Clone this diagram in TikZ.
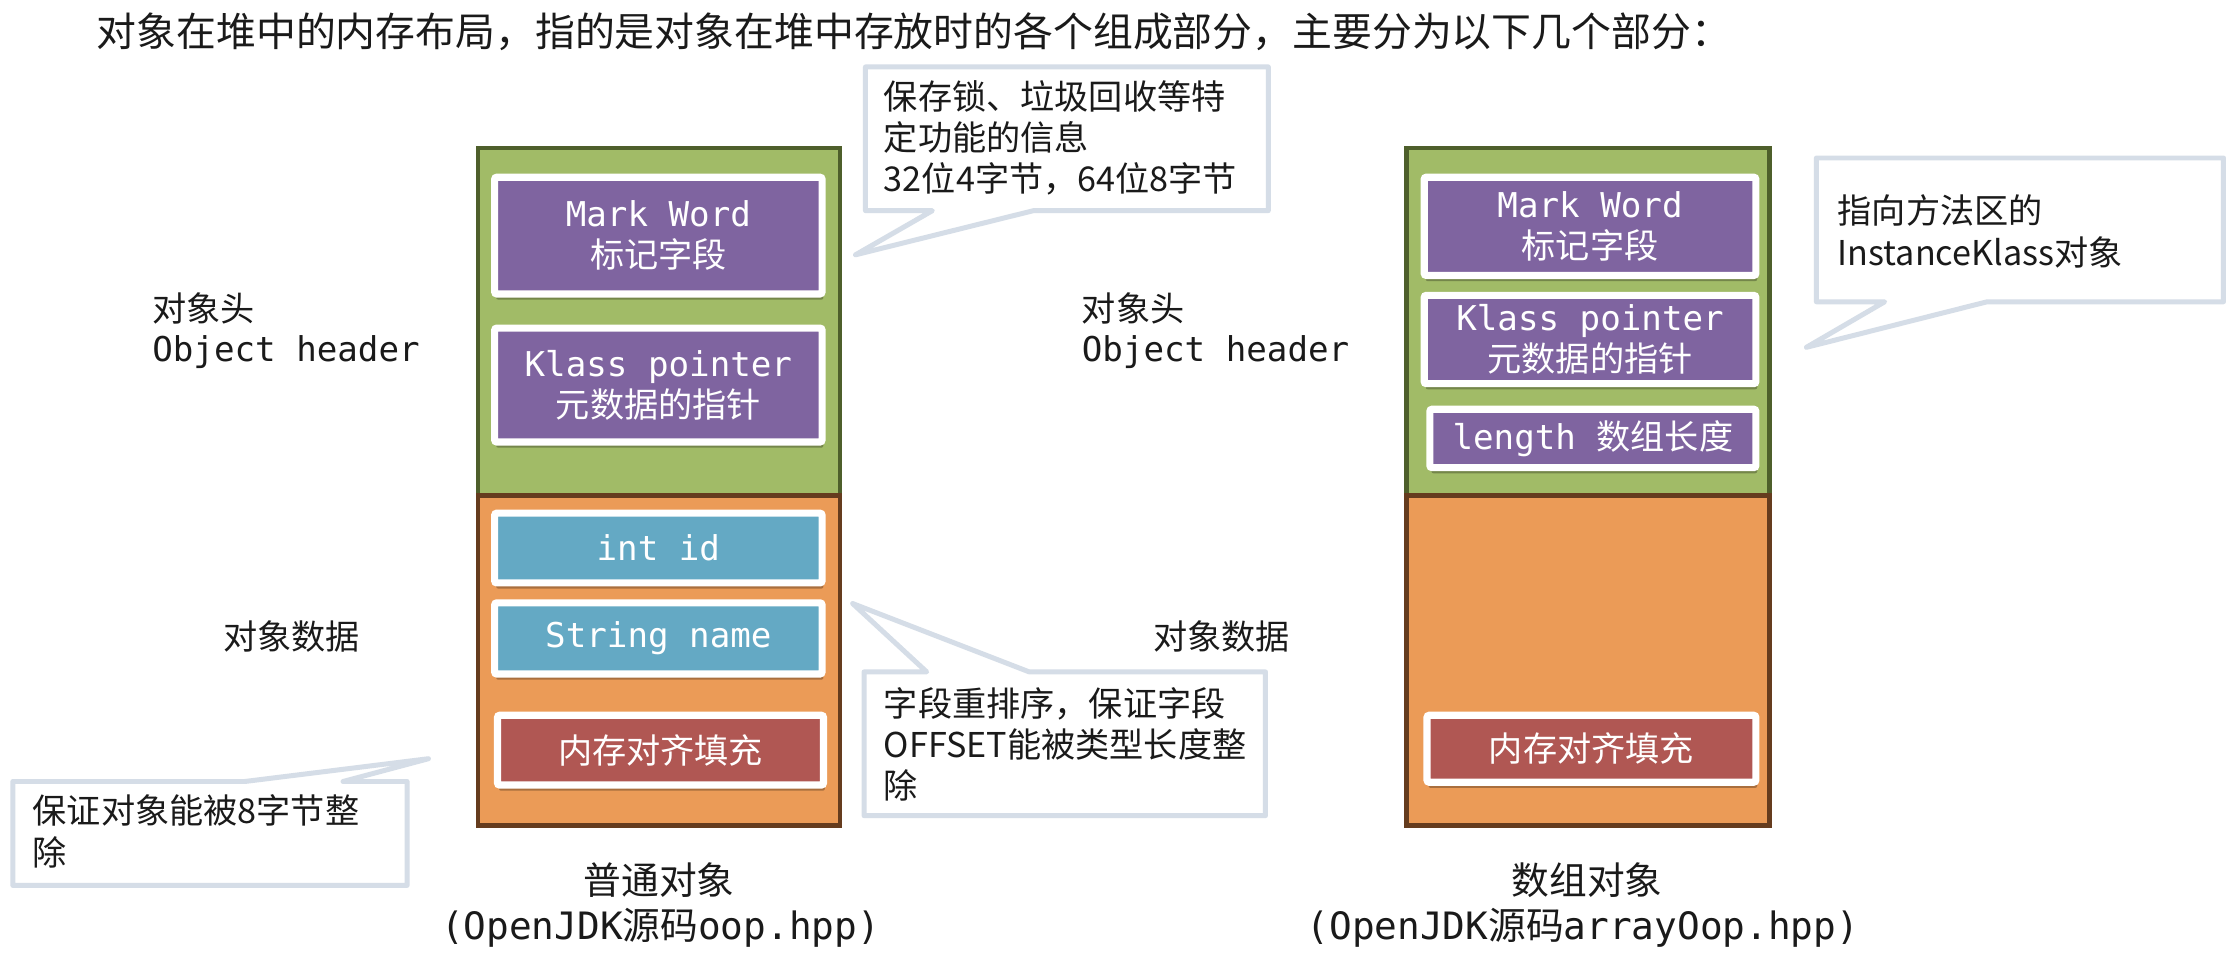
\documentclass[tikz,border=0pt]{standalone}
\usepackage{fontspec}
\setmainfont{Noto Sans CJK SC}
\newfontfamily\cjkf{Noto Sans CJK SC}
\newfontfamily\monof{DejaVu Sans Mono}
\usetikzlibrary{shadows}
\definecolor{hdrgreen}{HTML}{A1BB67}
\definecolor{hdrborder}{HTML}{4E5F2B}
\definecolor{datorange}{HTML}{EB9B57}
\definecolor{datborder}{HTML}{653C1E}
\definecolor{fpurple}{HTML}{7F64A0}
\definecolor{fblue}{HTML}{64A9C4}
\definecolor{fred}{HTML}{B05753}
\definecolor{calloutc}{HTML}{D5DDE7}
\definecolor{ink}{HTML}{1A1A1A}
\newcommand\fs[2]{\fontsize{#1}{#2}\selectfont}
\begin{document}
\begin{tikzpicture}[x=1pt,y=-1pt,
  every node/.style={inner sep=0pt, outer sep=0pt},
  field/.style={fill=#1, draw=white, line width=5pt, rounded corners=1.5pt,
    text=white, align=center, font=\fs{24}{29},
    drop shadow={shadow xshift=1pt, shadow yshift=-4pt, opacity=0.28, fill=black}},
  lbl/.style={anchor=west, text=ink, font=\fs{24}{29}},
  monolbl/.style={anchor=west, text=ink, font=\monof\fs{24}{29}},
  caption/.style={text=ink, align=center, font=\fs{26.5}{34}},
  callout/.style={draw=calloutc, line width=3.5pt, fill=white, line join=round},
  note/.style={anchor=west, align=left, text=ink, font=\fs{24}{29}}
]
\fill[white] (0,0) rectangle (1568,677);
\useasboundingbox (0,0) rectangle (1568,677);

% title
\node[anchor=west, text=ink, font=\fs{28}{34}] (title) at (68,22)
  {对象在堆中的内存布局，指的是对象在堆中存放时的各个组成部分，主要分为以下几个部分：};

% ---------- left object ----------
\filldraw[fill=hdrgreen, draw=hdrborder, line width=3pt] (336,104) rectangle (590,348);
\filldraw[fill=datorange, draw=datborder, line width=3pt] (336,348) rectangle (590,580);

\node[field=fpurple, minimum width=230pt, minimum height=82pt] (mw1) at (462.5,165.5)
  {{\monof Mark Word}\\{\cjkf 标记字段}};
\node[field=fpurple, minimum width=230pt, minimum height=80pt] (kp1) at (462.5,270.5)
  {{\monof Klass pointer}\\{\cjkf 元数据的指针}};
\node[field=fblue, minimum width=230pt, minimum height=49pt] (id1) at (462.5,385)
  {\monof int id};
\node[field=fblue, minimum width=230pt, minimum height=50pt] (sn1) at (462.5,448.5)
  {\monof String name};
\node[field=fred, minimum width=229pt, minimum height=49pt] (pad1) at (464,527)
  {内存对齐填充};

% ---------- right object ----------
\filldraw[fill=hdrgreen, draw=hdrborder, line width=3pt] (988,104) rectangle (1243,348);
\filldraw[fill=datorange, draw=datborder, line width=3pt] (988,348) rectangle (1243,580);

\node[field=fpurple, minimum width=233pt, minimum height=69pt] (mw2) at (1117,159)
  {{\monof Mark Word}\\{\cjkf 标记字段}};
\node[field=fpurple, minimum width=233pt, minimum height=62pt] (kp2) at (1117,238.5)
  {{\monof Klass pointer}\\{\cjkf 元数据的指针}};
\node[field=fpurple, minimum width=229pt, minimum height=41pt] (len2) at (1119,308)
  {{\monof length }{\cjkf 数组长度}};
\node[field=fred, minimum width=231pt, minimum height=47pt] (pad2) at (1118,526)
  {内存对齐填充};

% ---------- side labels ----------
\node[lbl] (hdr1) at (107,217) {对象头};
\node[monolbl] (hdr1en) at (107,247) {Object header};
\node[lbl] (dat1) at (157,447) {对象数据};
\node[lbl] (hdr2) at (760,217) {对象头};
\node[monolbl] (hdr2en) at (760,247) {Object header};
\node[lbl] (dat2) at (810,447) {对象数据};

% ---------- captions ----------
\node[caption] (cap1) at (463,618) {普通对象};
\node[caption] (cap1src) at (464,652) {{\monof (OpenJDK}源码{\monof oop.hpp)}};
\node[caption] (cap2) at (1115,618) {数组对象};
\node[caption] (cap2src) at (1112,652) {{\monof (OpenJDK}源码{\monof arrayOop.hpp)}};

% ---------- callouts ----------
\draw[callout] (608,47) -- (891,47) -- (891,148) -- (726,148) -- (601,179)
  -- (655,148) -- (608,148) -- cycle;
\node[note] (n1) at (621,97) {保存锁、垃圾回收等特\\定功能的信息\\32位4字节，64位8字节};

\draw[callout] (1276,111) -- (1562,111) -- (1562,212) -- (1396,212) -- (1269,244)
  -- (1324,212) -- (1276,212) -- cycle;
\node[note] (n2) at (1291,162.5) {指向方法区的\\InstanceKlass对象};

\draw[callout] (607,472) -- (651,472) -- (599,424) -- (723,472) -- (889,472)
  -- (889,573) -- (607,573) -- cycle;
\node[note] (n3) at (621,523) {字段重排序，保证字段\\OFFSET能被类型长度整\\除};

\draw[callout] (9,549) -- (172,549) -- (301,533) -- (241,549) -- (286,549)
  -- (286,622) -- (9,622) -- cycle;
\node[note] (n4) at (23,584) {保证对象能被8字节整\\除};
\end{tikzpicture}
\end{document}
